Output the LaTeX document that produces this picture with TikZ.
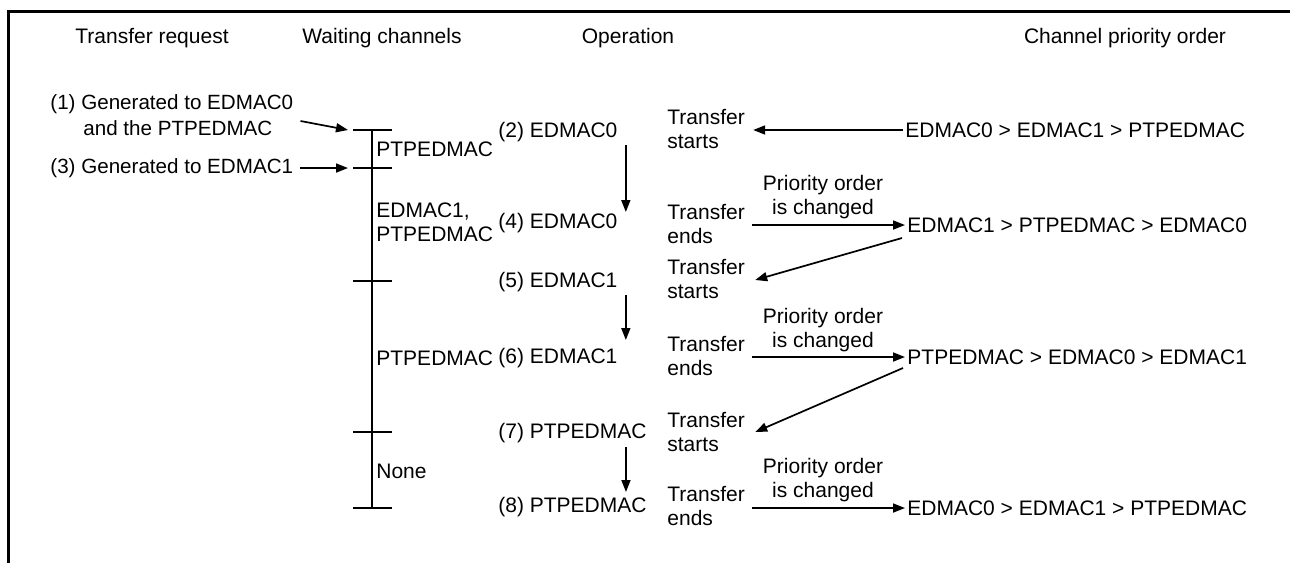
\documentclass[tikz,border=0pt]{standalone}
\usepackage{fontspec}
\setmainfont{Liberation Sans}
\usetikzlibrary{arrows.meta}
\begin{document}
\begin{tikzpicture}[x=0.5pt,y=-0.5pt,
  txt/.style={inner sep=0pt, anchor=west, align=left, font=\fontsize{10.5}{12}\selectfont},
  req/.style={txt, font=\fontsize{10.3}{12}\selectfont},
  hdr/.style={inner sep=0pt, anchor=center, align=center, font=\fontsize{10.5}{12}\selectfont},
  arr/.style={line width=0.85pt, -{Triangle[length=6pt,width=4.5pt]}},
  tick/.style={line width=0.75pt},
  endtick/.style={line width=1.2pt},
  frame/.style={line width=1.5pt}]
\useasboundingbox (0,0) rectangle (1290,563);
\draw[frame] (8.5,563) -- (8.5,11.5) -- (1290,11.5);

% headers
\node[hdr] (h1) at (152,38) {Transfer request};
\node[hdr] (h2) at (382,38) {Waiting channels};
\node[hdr] (h3) at (628,38) {Operation};
\node[hdr] (h4) at (1125,38) {Channel priority order};

% requests
\node[req] (r1) at (50,115) {(1) Generated to EDMAC0\\[1pt]\hspace*{16.5pt}and the PTPEDMAC};
\node[req] (r3) at (50,168) {(3) Generated to EDMAC1};

% timeline
\coordinate (t1) at (372,130);
\coordinate (t3) at (372,168);
\coordinate (t5) at (372,281);
\coordinate (t7) at (372,432);
\coordinate (t8) at (372,508);
\draw[tick] (t1) -- (t8);
\draw[tick] ([shift={(-19,0)}]t1) -- ([shift={(20,0)}]t1);
\draw[tick] ([shift={(-19,0)}]t3) -- ([shift={(20,0)}]t3);
\draw[tick] ([shift={(-19,0)}]t5) -- ([shift={(20,0)}]t5);
\draw[tick] ([shift={(-19,0)}]t7) -- ([shift={(20,0)}]t7);
\draw[endtick] ([shift={(-19,0)}]t8) -- ([shift={(20,0)}]t8);

\draw[arr] ([shift={(7,6)}]r1.east) -- ([shift={(-24,0)}]t1);
\draw[arr] ([shift={(6,0)}]r3.east) -- ([shift={(-24,0)}]t3);

% waiting channels
\node[txt] (w1) at (376,149) {PTPEDMAC};
\node[txt] (w2) at (376,222.5) {EDMAC1,\\PTPEDMAC};
\node[txt] (w3) at (376,358) {PTPEDMAC};
\node[txt] (w4) at (376,471) {None};

% operations
\node[txt] (o2) at (498,132) {(2) EDMAC0};
\node[txt] (o4) at (498,223) {(4) EDMAC0};
\node[txt] (o5) at (498,282) {(5) EDMAC1};
\node[txt] (o6) at (498,358) {(6) EDMAC1};
\node[txt] (o7) at (498,433) {(7) PTPEDMAC};
\node[txt] (o8) at (498,507) {(8) PTPEDMAC};

\draw[arr] ([shift={(8,13)}]o2.east) -- ([shift={(8,-11)}]o4.east);
\draw[arr] ([shift={(8,13)}]o5.east) -- ([shift={(8,-18)}]o6.east);
\draw[arr] ([shift={(-21,14)}]o7.east) -- ([shift={(-21,-15)}]o8.east);

% transfer states
\node[txt] (s1) at (667,128.5) {Transfer\\starts};
\node[txt] (e1) at (667,223.5) {Transfer\\ends};
\node[txt] (s2) at (667,279) {Transfer\\starts};
\node[txt] (e2) at (667,355.5) {Transfer\\ends};
\node[txt] (s3) at (667,431.5) {Transfer\\starts};
\node[txt] (e3) at (667,505.5) {Transfer\\ends};

% priority changed labels
\node[hdr] (c1) at (823,197.5) {Priority order\\is changed};
\node[hdr] (c2) at (823,330) {Priority order\\is changed};
\node[hdr] (c3) at (823,480) {Priority order\\is changed};

% priority orders
\node[txt] (p1) at (905,130) {EDMAC0 > EDMAC1 > PTPEDMAC};
\node[txt] (p2) at (907,225) {EDMAC1 > PTPEDMAC > EDMAC0};
\node[txt] (p3) at (907,357) {PTPEDMAC > EDMAC0 > EDMAC1};
\node[txt] (p4) at (907,508) {EDMAC0 > EDMAC1 > PTPEDMAC};

\draw[arr] ([shift={(-2,0)}]p1.west) -- ([shift={(8,1.5)}]s1.east);
\draw[arr] ([shift={(7,1.5)}]e1.east) -- ([shift={(-2,0)}]p2.west);
\draw[arr] ([shift={(-5,13)}]p2.west) -- ([shift={(10,1)}]s2.east);
\draw[arr] ([shift={(7,1.5)}]e2.east) -- ([shift={(-2,0)}]p3.west);
\draw[arr] ([shift={(-4,11)}]p3.west) -- ([shift={(10,0.5)}]s3.east);
\draw[arr] ([shift={(7,2.5)}]e3.east) -- ([shift={(-2,0)}]p4.west);
\end{tikzpicture}
\end{document}
